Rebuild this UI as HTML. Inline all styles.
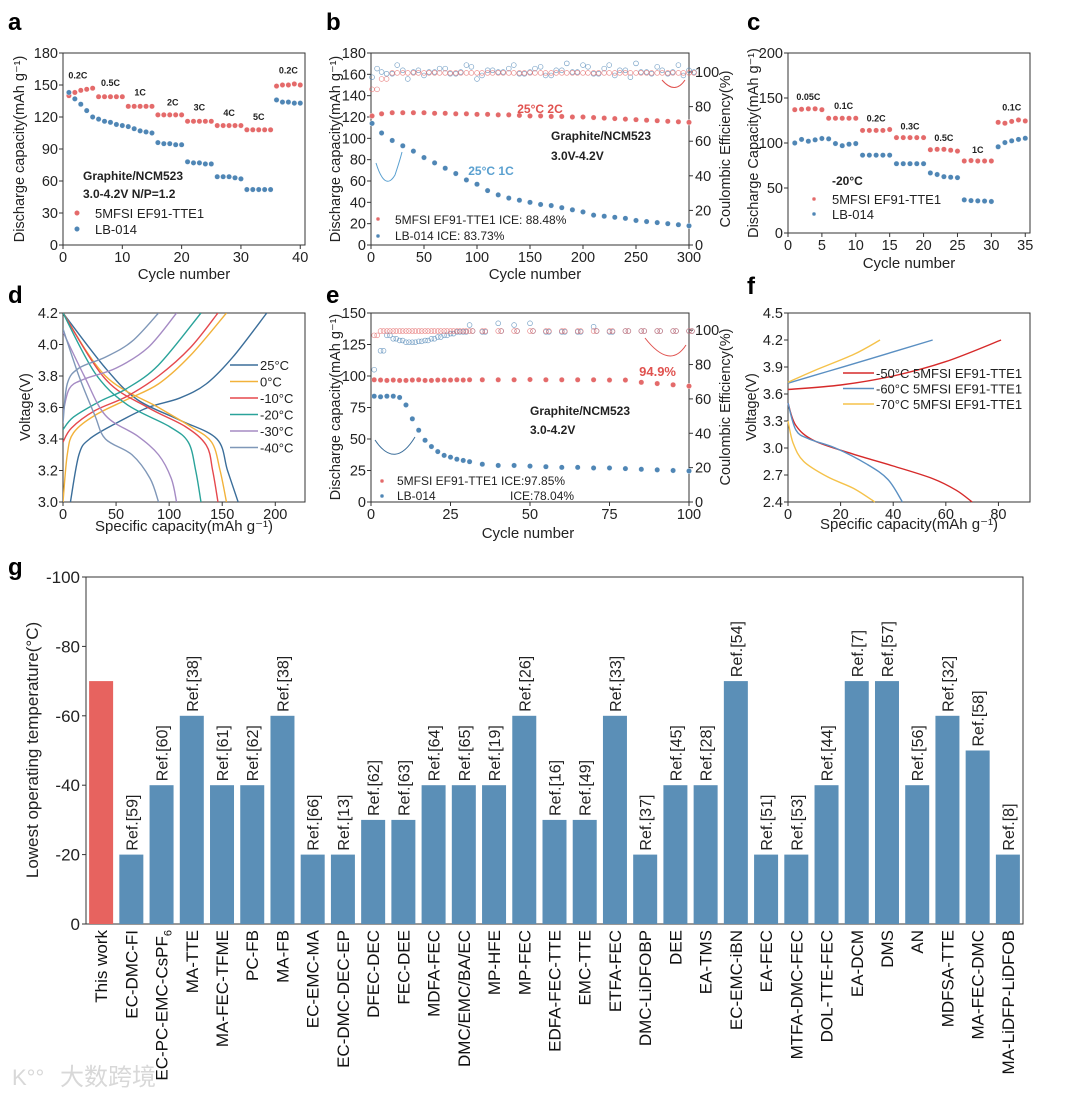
<!DOCTYPE html>
<html><head><meta charset="utf-8"><title>Electrolyte performance figure</title>
<style>
html,body{margin:0;padding:0;background:#fff;}
svg{display:block;font-family:"Liberation Sans",Arial,sans-serif;}
</style></head>
<body>
<svg id="fig" width="1080" height="1099" viewBox="0 0 1080 1099" xmlns="http://www.w3.org/2000/svg"></svg>
<script>
// ---------- DATA ----------
// panel a
const aCycles = [1,2,3,4,5,6,7,8,9,10,11,12,13,14,15,16,17,18,19,20,21,22,23,24,25,26,27,28,29,30,31,32,33,34,35,36,37,38,39,40];
const aRed = [140,143,145,146,147,139,139,139,139,139,130,130,130,130,130,122,122,122,122,122,116,116,116,116,116,112,112,112,112,112,108,108,108,108,108,149,150,150,151,150];
const aBlue = [143,137,132,126,120,118,116,115,113,112,111,109,107,106,105,96,95,95,94,94,78,77,77,76,76,64,64,64,63,62,52,52,52,52,52,136,134,134,133,133];
const aRateLabels = ["0.2C","0.5C","1C","2C","3C","4C","5C","0.2C"];
const aRateX = [2.5,8,13,18.5,23,28,33,38];
const aRateY = [156,149,140,131,126,121,117,161];
// panel b
const bCycles = [1,10,20,30,40,50,60,70,80,90,100,110,120,130,140,150,160,170,180,190,200,210,220,230,240,250,260,270,280,290,300];
const bRed = [121,123,124,124,124,124,123.5,123.5,123,123,122.5,122.5,122,122,121.5,121,121,120.5,120.5,120,120,119.5,119,118.5,118,117.5,117,116.5,116,115.5,115];
const bBlue = [114,105,98,93,88,82,77,72,67,61,57,51,47,44,42,40,38,37,35,33,31,28,27,26,25,23,22,21,20,19,18];
const bCeCycles = [1,10,20,30,40,50,60,70,80,90,100,110,120,130,140,150,160,170,180,190,200,210,220,230,240,250,260,270,280,290,300];
const bCeRed = [90,96,99.5,99.5,99.5,99.5,99.5,99.5,99.5,99.5,99.5,99.5,99.5,99.5,99.5,99.5,99.5,99.5,99.5,99.5,99.5,99.5,99.5,99.5,99.5,99.5,99.5,99.5,99.5,99.5,99.5];
const bCeBlue = [97,100,99,101,100,98,100,102,99,104,96,101,100,102,99,100,103,98,101,100,104,99,102,98,101,105,100,103,99,104,101];
// panel c
const cCycles = [1,2,3,4,5,6,7,8,9,10,11,12,13,14,15,16,17,18,19,20,21,22,23,24,25,26,27,28,29,30,31,32,33,34,35];
const cRed = [137,137.5,138,138,137,127.5,127.5,127.5,127.5,127.5,114,114,114,114,115,106,106,106,106,106,92.5,93,93,92,91,80,80.5,80,80,80,123,122,124,125.6,124.5];
const cBlue = [100,104,102,103.5,105,104.6,99.4,97,98.7,99.4,86.5,86.5,86.5,86.5,86.5,77,77,77,77,77,66.7,65,62.6,62,61.5,36.8,36,35.7,35.5,35,95.8,100.5,102.4,104,105.3];
const cRateLabels = ["0.05C","0.1C","0.2C","0.3C","0.5C","1C","0.1C"];
const cRateX = [3,8.2,13,18,23,28,33];
const cRateY = [148,138,124,115,102,89,136];
// panel d : [capacity, voltage] pairs
const dNames = ["25°C","0°C","-10°C","-20°C","-30°C","-40°C"];
const dColors = ["#3b6e9a","#f2b23a","#e5484d","#2aa39a","#a58bc4","#7f97b8"];
const dCharge = [
 [[7,3.0],[15,3.3],[25,3.4],[50,3.5],[80,3.6],[110,3.66],[135,3.75],[160,3.92],[192,4.2]],
 [[0,3.0],[4,3.3],[10,3.44],[30,3.55],[60,3.65],[90,3.75],[120,3.93],[154,4.2]],
 [[0,3.38],[8,3.47],[30,3.58],[60,3.67],[90,3.8],[120,3.98],[146,4.2]],
 [[0,3.46],[10,3.54],[35,3.64],[60,3.72],[90,3.87],[130,4.2]],
 [[0,3.56],[6,3.72],[20,3.78],[50,3.85],[80,3.98],[107,4.2]],
 [[0,3.5],[4,3.75],[15,3.85],[40,3.92],[65,4.02],[90,4.2]]
];
const dDischarge = [
 [[0,4.2],[40,3.85],[70,3.65],[110,3.52],[145,3.4],[155,3.2],[165,3.0]],
 [[0,4.2],[40,3.8],[90,3.6],[120,3.48],[140,3.38],[148,3.2],[154,3.0]],
 [[0,4.2],[40,3.78],[80,3.6],[115,3.48],[135,3.36],[141,3.2],[146,3.0]],
 [[0,4.2],[30,3.82],[60,3.62],[100,3.48],[118,3.38],[125,3.2],[130,3.0]],
 [[0,4.08],[20,3.8],[40,3.55],[70,3.42],[90,3.3],[102,3.15],[107,3.0]],
 [[0,4.1],[15,3.8],[30,3.55],[40,3.4],[65,3.3],[82,3.15],[90,3.0]]
];
// panel e
const eCycles = [1,3,5,7,9,11,13,15,17,19,21,23,25,27,29,31,35,40,45,50,55,60,65,70,75,80,85,90,95,100];
const eRed = [97,96.8,96.5,96.8,96.5,96.5,96.8,97,96.5,96.5,96.8,96.8,96.8,97,96.8,97,97,97,97,97.2,97,97,97,97,96.8,96.8,95,94,93,92];
const eBlue = [84,83.5,84,84,83,77,66,57,49,44,40,37,35.6,34,33,32,30,29,29,28.5,28,27.5,27.5,27,27,26.5,26,25.5,25,24.6];
const eCeCycles = [1,3,5,7,9,11,13,15,17,19,21,23,25,27,29,31,35,40,45,50,55,60,65,70,75,80,85,90,95,100];
const eCeRed = [97,99.5,99.5,99.5,99.5,99.5,99.5,99.5,99.5,99.5,99.5,99.5,99.5,99.5,99.5,99.5,99.5,99.5,99.5,99.5,99.5,99.5,99.5,99.5,99.5,99.5,99.5,99.5,99.5,99.5];
const eCeBlue = [77,88,97,95,94,93,93,93.5,94,95,96,97,98,99,99,103,99,104,103,104,99,99,99,102,99,99.5,99.5,99.5,99.5,99.5];
// panel f
const fNames = ["-50°C 5MFSI EF91-TTE1","-60°C 5MFSI EF91-TTE1","-70°C 5MFSI EF91-TTE1"];
const fColors = ["#d62a2a","#5a8fc2","#f5c24a"];
const fCharge = [
 [[0,3.65],[20,3.7],[40,3.8],[60,3.96],[81,4.2]],
 [[0,3.72],[15,3.85],[30,3.98],[55,4.2]],
 [[0,3.73],[10,3.86],[25,4.04],[35,4.2]]
];
const fDischarge = [
 [[0,3.5],[3,3.25],[10,3.08],[25,2.93],[40,2.8],[55,2.66],[64,2.53],[70,2.4]],
 [[0,3.5],[3,3.2],[8,3.1],[18,3.0],[30,2.82],[38,2.65],[43.5,2.4]],
 [[0,3.3],[2,3.05],[6,2.85],[15,2.68],[25,2.55],[33,2.4]]
];
// panel g
const gCategories = ["This work","EC-DMC-FI","EC-PC-EMC-CsPF6","MA-TTE","MA-FEC-TFME","PC-FB","MA-FB","EC-EMC-MA","EC-DMC-DEC-EP","DFEC-DEC","FEC-DEE","MDFA-FEC","DMC/EMC/BA/EC","MP-HFE","MP-FEC","EDFA-FEC-TTE","EMC-TTE","ETFA-FEC","DMC-LiDFOBP","DEE","EA-TMS","EC-EMC-iBN","EA-FEC","MTFA-DMC-FEC","DOL-TTE-FEC","EA-DCM","DMS","AN","MDFSA-TTE","MA-FEC-DMC","MA-LiDFP-LiDFOB"];
const gTemps = [-70,-20,-40,-60,-40,-40,-60,-20,-20,-30,-30,-40,-40,-40,-60,-30,-30,-60,-20,-40,-40,-70,-20,-20,-40,-70,-70,-40,-60,-50,-20];
const gRefs = ["","59","60","38","61","62","38","66","13","62","63","64","65","19","26","16","49","33","37","45","28","54","51","53","44","7","57","56","32","58","8"];
const gTicks = [0,-20,-40,-60,-80,-100];

// ---------- HELPERS ----------
const svg = document.getElementById('fig');
const NS = 'http://www.w3.org/2000/svg';
function mk(tag, attrs, parent){
  const e = document.createElementNS(NS, tag);
  for (const k in attrs) e.setAttribute(k, attrs[k]);
  (parent || svg).appendChild(e);
  return e;
}
function nm(e, name){
  
  
  return e;
}
function txt(x, y, s, opt, name){
  opt = opt || {};
  const e = mk('text', {x:x, y:y, 'font-size':opt.size||14, fill:opt.fill||'#222', 'text-anchor':opt.anchor||'middle', 'font-weight':opt.weight||'normal'});
  if (opt.rot) e.setAttribute('transform', 'rotate(' + opt.rot + ' ' + x + ' ' + y + ')');
  e.textContent = s;
  nm(e, name || 'label');
  return e;
}
function scale(d0, d1, p0, p1){ return v => p0 + (v - d0) * (p1 - p0) / (d1 - d0); }
function smoothPath(pts){
  let d = 'M' + pts[0][0] + ',' + pts[0][1];
  for (let i = 0; i < pts.length - 1; i++){
    const p0 = pts[i-1] || pts[i], p1 = pts[i], p2 = pts[i+1], p3 = pts[i+2] || p2;
    const c1 = [p1[0] + (p2[0]-p0[0])/6, p1[1] + (p2[1]-p0[1])/6];
    const c2 = [p2[0] - (p3[0]-p1[0])/6, p2[1] - (p3[1]-p1[1])/6];
    d += ' C' + c1[0] + ',' + c1[1] + ' ' + c2[0] + ',' + c2[1] + ' ' + p2[0] + ',' + p2[1];
  }
  return d;
}
function panel(p){
  const x = scale(p.xd[0], p.xd[1], p.L, p.R);
  const y = scale(p.yd[0], p.yd[1], p.B, p.T);
  const fr = mk('rect', {x:p.L, y:p.T, width:p.R-p.L, height:p.B-p.T, fill:'none', stroke:'#333', 'stroke-width':1});
  nm(fr, p.id + '-frame');
  p.xt.forEach(v => {
    const t = mk('line', {x1:x(v), x2:x(v), y1:p.B, y2:p.B+4, stroke:'#333'});
    nm(t, p.id + '-x-tick');
    txt(x(v), p.B + 17, String(v), {size:14.5}, p.id + '-x-tick-label');
  });
  p.yt.forEach(v => {
    const t = mk('line', {x1:p.L-4, x2:p.L, y1:y(v), y2:y(v), stroke:'#333'});
    nm(t, p.id + '-y-tick');
    txt(p.L - 5, y(v) + 5, p.yfmt ? p.yfmt(v) : String(v), {size:14.5, anchor:'end'}, p.id + '-y-tick-label');
  });
  let y2 = null;
  if (p.y2d){
    y2 = scale(p.y2d[0], p.y2d[1], p.B, p.T);
    p.y2t.forEach(v => {
      const t = mk('line', {x1:p.R, x2:p.R+4, y1:y2(v), y2:y2(v), stroke:'#333'});
      nm(t, p.id + '-y2-tick');
      txt(p.R + 6, y2(v) + 5, String(v), {size:14.5, anchor:'start'}, p.id + '-y2-tick-label');
    });
  }
  return {x:x, y:y, y2:y2};
}
function dot(cx, cy, color, name, r){
  const c = mk('circle', {cx:cx, cy:cy, r:r||2.7, fill:color, stroke:'#fff', 'stroke-width':0.4});
  nm(c, name);
  return c;
}
function ring(cx, cy, color, name){
  const c = mk('circle', {cx:cx, cy:cy, r:2.4, fill:'none', stroke:color, 'stroke-width':0.7, opacity:0.75});
  nm(c, name);
  return c;
}
const RED = '#e46a6a', BLUE = '#4f86b5', REDT = '#e0524f', BLUET = '#5aa0d0';

// ---------- PANEL LETTERS ----------
[['a',8,30],['b',326,30],['c',747,30],['d',8,303],['e',326,303],['f',747,294],['g',8,575]].forEach(l => {
  txt(l[1], l[2], l[0], {size:24, weight:'bold', anchor:'start', fill:'#000'}, 'panel-letter-' + l[0]);
});

// ---------- PANEL A ----------
(function(){
  const A = panel({id:'a', L:63, R:305, T:53, B:245, xd:[0,40.8], yd:[0,180], xt:[0,10,20,30,40], yt:[0,30,60,90,120,150,180]});
  aCycles.forEach((c,i) => { dot(A.x(c), A.y(aRed[i]), RED, 'a-red-point'); });
  aCycles.forEach((c,i) => { dot(A.x(c), A.y(aBlue[i]), BLUE, 'a-blue-point'); });
  aRateLabels.forEach((s,i) => { txt(A.x(aRateX[i]), A.y(aRateY[i]), s, {size:9, weight:'bold'}, 'a-rate-label'); });
  txt(184, 279, 'Cycle number', {size:15}, 'a-x-axis-title');
  txt(24, 149, 'Discharge capacity(mAh g⁻¹)', {size:14.5, rot:-90}, 'a-y-axis-title');
  txt(83, 180, 'Graphite/NCM523', {size:12, weight:'bold', anchor:'start'}, 'a-annotation-cell');
  txt(83, 198, '3.0-4.2V   N/P=1.2', {size:12, weight:'bold', anchor:'start'}, 'a-annotation-np');
  dot(77, 213, RED, 'a-legend-red-marker');
  txt(95, 218, '5MFSI EF91-TTE1', {size:13, anchor:'start'}, 'a-legend-red');
  dot(77, 229, BLUE, 'a-legend-blue-marker');
  txt(95, 234, 'LB-014', {size:13, anchor:'start'}, 'a-legend-blue');
})();

// ---------- PANEL B ----------
(function(){
  const B = panel({id:'b', L:371, R:689, T:53, B:245, xd:[0,300], yd:[0,180], xt:[0,50,100,150,200,250,300], yt:[0,20,40,60,80,100,120,140,160,180], y2d:[0,111], y2t:[0,20,40,60,80,100]});
  bCeCycles.forEach((c,i) => { ring(B.x(c), B.y2(bCeBlue[i]), BLUE, 'b-blue-ce-point'); ring(B.x(c)+5, B.y2(bCeBlue[(i+7)%bCeBlue.length]), BLUE, 'b-blue-ce-point'); });
  bCeCycles.forEach((c,i) => { ring(B.x(c), B.y2(bCeRed[i]), RED, 'b-red-ce-point'); ring(B.x(c)+5, B.y2(bCeRed[i]), RED, 'b-red-ce-point'); });
  bCycles.forEach((c,i) => { dot(B.x(c), B.y(bRed[i]), RED, 'b-red-point'); });
  bCycles.forEach((c,i) => { dot(B.x(c), B.y(bBlue[i]), BLUE, 'b-blue-point'); });
  const ar1 = mk('path', {d:'M376,163 Q385,192 395,175 Q400,160 402,152', fill:'none', stroke:BLUET, 'stroke-width':1}); nm(ar1, 'b-arrow-left');
  const ar2 = mk('path', {d:'M662,80 Q675,95 685,80', fill:'none', stroke:REDT, 'stroke-width':1}); nm(ar2, 'b-arrow-right');
  txt(540, 113, '25°C 2C', {size:12, weight:'bold', fill:REDT}, 'b-red-annotation');
  txt(491, 175, '25°C 1C', {size:12, weight:'bold', fill:BLUET}, 'b-blue-annotation');
  txt(551, 140, 'Graphite/NCM523', {size:12, weight:'bold', anchor:'start'}, 'b-annotation-cell');
  txt(551, 160, '3.0V-4.2V', {size:12, weight:'bold', anchor:'start'}, 'b-annotation-voltage');
  dot(378, 219, RED, 'b-legend-red-marker', 2);
  txt(395, 224, '5MFSI EF91-TTE1  ICE: 88.48%', {size:12, anchor:'start'}, 'b-legend-red');
  dot(378, 236, BLUE, 'b-legend-blue-marker', 2);
  txt(395, 240, 'LB-014  ICE: 83.73%', {size:12, anchor:'start'}, 'b-legend-blue');
  txt(535, 279, 'Cycle number', {size:15}, 'b-x-axis-title');
  txt(340, 149, 'Discharge capacity(mAh g⁻¹)', {size:14.5, rot:-90}, 'b-y-axis-title');
  txt(730, 149, 'Coulombic Efficiency(%)', {size:14.5, rot:-90}, 'b-y2-axis-title');
})();

// ---------- PANEL C ----------
(function(){
  const C = panel({id:'c', L:788, R:1030, T:53, B:233, xd:[0,35.7], yd:[0,200], xt:[0,5,10,15,20,25,30,35], yt:[0,50,100,150,200]});
  cCycles.forEach((c,i) => { dot(C.x(c), C.y(cRed[i]), RED, 'c-red-point'); });
  cCycles.forEach((c,i) => { dot(C.x(c), C.y(cBlue[i]), BLUE, 'c-blue-point'); });
  cRateLabels.forEach((s,i) => { txt(C.x(cRateX[i]), C.y(cRateY[i]), s, {size:9, weight:'bold'}, 'c-rate-label'); });
  txt(832, 185, '-20°C', {size:12, weight:'bold', anchor:'start'}, 'c-annotation-temp');
  dot(814, 199, RED, 'c-legend-red-marker', 2);
  txt(832, 204, '5MFSI EF91-TTE1', {size:13, anchor:'start'}, 'c-legend-red');
  dot(814, 214, BLUE, 'c-legend-blue-marker', 2);
  txt(832, 219, 'LB-014', {size:13, anchor:'start'}, 'c-legend-blue');
  txt(909, 268, 'Cycle number', {size:15}, 'c-x-axis-title');
  txt(758, 143, 'Discharge Capacity(mAh g⁻¹)', {size:14.5, rot:-90}, 'c-y-axis-title');
})();

// ---------- PANEL D ----------
(function(){
  const D = panel({id:'d', L:63, R:305, T:313, B:502, xd:[0,228], yd:[3.0,4.2], xt:[0,50,100,150,200], yt:[3.0,3.2,3.4,3.6,3.8,4.0,4.2], yfmt:v=>v.toFixed(1)});
  const clip = mk('clipPath', {id:'clipd'}); nm(clip, 'd-clip');
  mk('rect', {x:63, y:313, width:242, height:189}, clip);
  dNames.forEach((n,i) => {
    const ch = mk('path', {d:smoothPath(dCharge[i].map(p => [D.x(p[0]), D.y(p[1])])), fill:'none', stroke:dColors[i], 'stroke-width':1.4, 'clip-path':'url(#clipd)'});
    nm(ch, 'd-charge-curve');
    const dc = mk('path', {d:smoothPath(dDischarge[i].map(p => [D.x(p[0]), D.y(p[1])])), fill:'none', stroke:dColors[i], 'stroke-width':1.4, 'clip-path':'url(#clipd)'});
    nm(dc, 'd-discharge-curve');
    const ly = 365 + i * 16.5;
    const ll = mk('line', {x1:230, x2:258, y1:ly, y2:ly, stroke:dColors[i], 'stroke-width':1.6}); nm(ll, 'd-legend-line');
    txt(260, ly + 5, n, {size:13, anchor:'start'}, 'd-legend-entry');
  });
  txt(184, 531, 'Specific capacity(mAh g⁻¹)', {size:15}, 'd-x-axis-title');
  txt(30, 407, 'Voltage(V)', {size:14.5, rot:-90}, 'd-y-axis-title');
})();

// ---------- PANEL E ----------
(function(){
  const E = panel({id:'e', L:371, R:689, T:313, B:502, xd:[0,100], yd:[0,150], xt:[0,25,50,75,100], yt:[0,25,50,75,100,125,150], y2d:[0,110], y2t:[0,20,40,60,80,100]});
  eCeCycles.forEach((c,i) => { ring(E.x(c), E.y2(eCeBlue[i]), BLUE, 'e-blue-ce-point'); if (i > 0) ring(E.x(c)+3, E.y2(eCeBlue[i] > 101 ? 99.5 : eCeBlue[i]), BLUE, 'e-blue-ce-point'); });
  eCeCycles.forEach((c,i) => { ring(E.x(c), E.y2(eCeRed[i]), RED, 'e-red-ce-point'); ring(E.x(c)+3, E.y2(eCeRed[i]), RED, 'e-red-ce-point'); });
  eCycles.forEach((c,i) => { dot(E.x(c), E.y(eRed[i]), RED, 'e-red-point'); });
  eCycles.forEach((c,i) => { dot(E.x(c), E.y(eBlue[i]), BLUE, 'e-blue-point'); });
  const ar1 = mk('path', {d:'M375,440 Q395,470 415,437', fill:'none', stroke:'#3b6e9a', 'stroke-width':1}); nm(ar1, 'e-arrow-left');
  const ar2 = mk('path', {d:'M645,338 Q670,370 686,345', fill:'none', stroke:REDT, 'stroke-width':1}); nm(ar2, 'e-arrow-right');
  txt(676, 376, '94.9%', {size:13, weight:'bold', fill:REDT, anchor:'end'}, 'e-retention-label');
  txt(530, 415, 'Graphite/NCM523', {size:12, weight:'bold', anchor:'start'}, 'e-annotation-cell');
  txt(530, 434, '3.0-4.2V', {size:12, weight:'bold', anchor:'start'}, 'e-annotation-voltage');
  dot(382, 481, RED, 'e-legend-red-marker', 2);
  txt(397, 485, '5MFSI EF91-TTE1 ICE:97.85%', {size:12, anchor:'start'}, 'e-legend-red');
  dot(382, 496, BLUE, 'e-legend-blue-marker', 2);
  txt(397, 500, 'LB-014', {size:12, anchor:'start'}, 'e-legend-blue');
  txt(510, 500, 'ICE:78.04%', {size:12, anchor:'start'}, 'e-legend-blue-ice');
  txt(528, 538, 'Cycle number', {size:15}, 'e-x-axis-title');
  txt(340, 407, 'Discharge capacity(mAh g⁻¹)', {size:14.5, rot:-90}, 'e-y-axis-title');
  txt(730, 407, 'Coulombic Efficiency(%)', {size:14.5, rot:-90}, 'e-y2-axis-title');
})();

// ---------- PANEL F ----------
(function(){
  const F = panel({id:'f', L:788, R:1030, T:313, B:502, xd:[0,92], yd:[2.4,4.5], xt:[0,20,40,60,80], yt:[2.4,2.7,3.0,3.3,3.6,3.9,4.2,4.5], yfmt:v=>v.toFixed(1)});
  fNames.forEach((n,i) => {
    const ch = mk('path', {d:smoothPath(fCharge[i].map(p => [F.x(p[0]), F.y(p[1])])), fill:'none', stroke:fColors[i], 'stroke-width':1.4});
    nm(ch, 'f-charge-curve');
    const dc = mk('path', {d:smoothPath(fDischarge[i].map(p => [F.x(p[0]), F.y(p[1])])), fill:'none', stroke:fColors[i], 'stroke-width':1.4});
    nm(dc, 'f-discharge-curve');
    const ly = 373 + i * 15.5;
    const ll = mk('line', {x1:843, x2:874, y1:ly, y2:ly, stroke:fColors[i], 'stroke-width':1.6}); nm(ll, 'f-legend-line');
    txt(876, ly + 5, n, {size:13, anchor:'start'}, 'f-legend-entry');
  });
  txt(909, 529, 'Specific capacity(mAh g⁻¹)', {size:15}, 'f-x-axis-title');
  txt(756, 407, 'Voltage(V)', {size:14.5, rot:-90}, 'f-y-axis-title');
})();

// ---------- PANEL G ----------
(function(){
  const L = 86, R = 1023, T = 577, B = 924;
  const y = scale(0, -100, B, T);
  const pitch = (R - L) / gCategories.length;
  const bw = 24;
  const fr = mk('rect', {x:L, y:T, width:R-L, height:B-T, fill:'none', stroke:'#333', 'stroke-width':1});
  nm(fr, 'g-frame');
  gTicks.forEach(v => {
    const t = mk('line', {x1:L-4, x2:L, y1:y(v), y2:y(v), stroke:'#333'});
    nm(t, 'g-y-tick');
    txt(L - 6, y(v) + 6, String(v), {size:17, anchor:'end'}, 'g-y-tick-label');
  });
  gCategories.forEach((c,i) => {
    const cx = L + pitch * (i + 0.5);
    const b = mk('rect', {x:cx - bw/2, y:y(gTemps[i]), width:bw, height:B - y(gTemps[i]), fill:i === 0 ? '#e7635f' : '#5b8fb7'});
    nm(b, 'g-bar-' + i);
    if (gRefs[i]) {
      const ry = y(gTemps[i]) - 4;
      txt(cx + 6, ry, 'Ref.[' + gRefs[i] + ']', {size:16, anchor:'start', rot:-90}, 'g-ref-label');
    }
    const lx = cx + 6, ly = 930;
    const t = mk('text', {x:lx, y:ly, 'font-size':17, fill:'#111', 'text-anchor':'end', transform:'rotate(-90 ' + lx + ' ' + ly + ')'});
    nm(t, 'g-category-label');
    if (c === 'EC-PC-EMC-CsPF6') {
      t.textContent = 'EC-PC-EMC-CsPF';
      const s = mk('tspan', {'font-size':11, dy:4}, t);
      nm(s, 'g-subscript');
      s.textContent = '6';
    } else {
      t.textContent = c;
    }
  });
  txt(38, 750, 'Lowest operating temperature(°C)', {size:17, rot:-90}, 'g-y-axis-title');
  txt(60, 1085, '大数跨境', {size:24, fill:'#d8d8d8', anchor:'start'}, 'watermark');
  txt(12, 1085, 'K°°', {size:22, fill:'#d8d8d8', anchor:'start'}, 'watermark-logo');
})();
</script>
</body></html>
